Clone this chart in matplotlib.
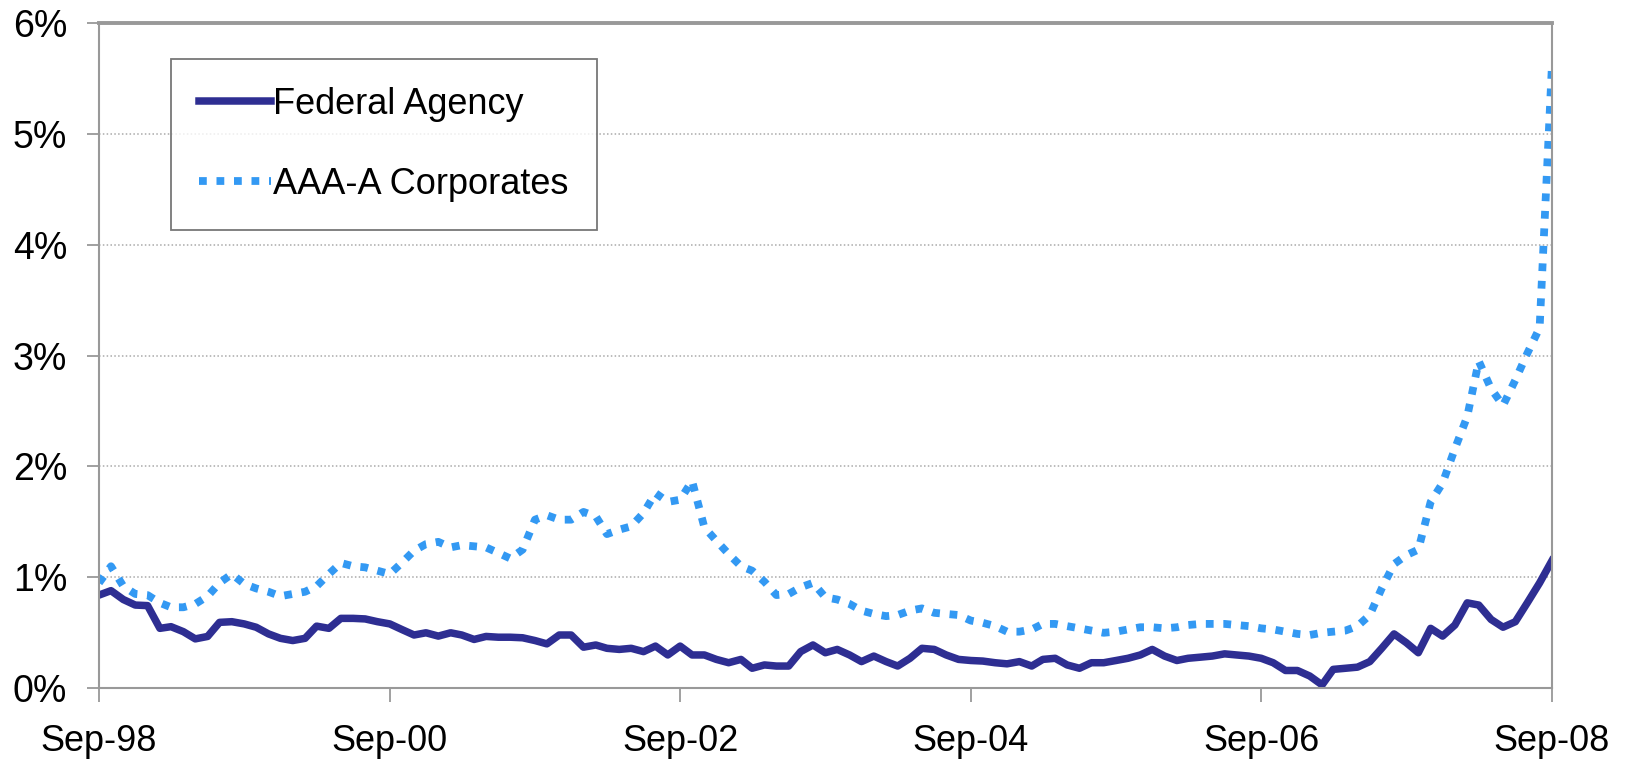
import matplotlib
matplotlib.use('Agg')
import matplotlib.pyplot as plt
import matplotlib.dates as mdates
from matplotlib.ticker import PercentFormatter
import pandas as pd

plt.rcParams['font.family'] = ['Liberation Sans', 'DejaVu Sans']

# monthly observations, Sep-98 .. Sep-08 (spread in %)
dates = pd.date_range('1998-09-01', '2008-09-01', freq='MS')

federal_agency = [
    0.84, 0.88, 0.80, 0.75, 0.745, 0.54, 0.555, 0.51, 0.445, 0.467,
    0.594, 0.60, 0.58, 0.55, 0.49, 0.45, 0.43, 0.45, 0.56, 0.54,
    0.63, 0.63, 0.625, 0.60, 0.58, 0.53, 0.48, 0.50, 0.47, 0.50,
    0.48, 0.44, 0.467, 0.46, 0.46, 0.455, 0.43, 0.40, 0.48, 0.48,
    0.37, 0.39, 0.36, 0.35, 0.36, 0.33, 0.38, 0.30, 0.38, 0.30,
    0.30, 0.26, 0.23, 0.26, 0.18, 0.21, 0.20, 0.20, 0.33, 0.39,
    0.32, 0.35, 0.30, 0.24, 0.29, 0.24, 0.20, 0.27, 0.36, 0.35,
    0.30, 0.26, 0.25, 0.245, 0.23, 0.22, 0.24, 0.20, 0.26, 0.27,
    0.21, 0.18, 0.23, 0.23, 0.25, 0.27, 0.30, 0.35, 0.29, 0.25,
    0.27, 0.28, 0.29, 0.31, 0.30, 0.29, 0.27, 0.23, 0.16, 0.16,
    0.11, 0.03, 0.17, 0.18, 0.19, 0.24, 0.36, 0.49, 0.41, 0.32,
    0.54, 0.47, 0.57, 0.77, 0.75, 0.62, 0.55, 0.60, 0.77, 0.95,
    1.15,
]

aaa_corporates = [
    0.95, 1.10, 0.92, 0.85, 0.84, 0.77, 0.73, 0.73, 0.76, 0.83,
    0.95, 1.03, 0.94, 0.90, 0.87, 0.83, 0.85, 0.87, 0.92, 1.03,
    1.13, 1.10, 1.09, 1.06, 1.03, 1.13, 1.24, 1.30, 1.32, 1.27,
    1.29, 1.28, 1.27, 1.22, 1.17, 1.25, 1.52, 1.56, 1.52, 1.52,
    1.59, 1.55, 1.39, 1.43, 1.46, 1.58, 1.76, 1.68, 1.70, 1.87,
    1.45, 1.33, 1.21, 1.10, 1.06, 0.96, 0.84, 0.85, 0.91, 0.95,
    0.82, 0.80, 0.76, 0.70, 0.67, 0.65, 0.66, 0.70, 0.72, 0.68,
    0.67, 0.66, 0.61, 0.59, 0.56, 0.51, 0.51, 0.53, 0.58, 0.58,
    0.56, 0.54, 0.52, 0.50, 0.51, 0.53, 0.55, 0.55, 0.54, 0.55,
    0.57, 0.58, 0.58, 0.58, 0.57, 0.56, 0.54, 0.53, 0.51, 0.49,
    0.48, 0.50, 0.51, 0.52, 0.56, 0.66, 0.90, 1.12, 1.20, 1.25,
    1.68, 1.85, 2.16, 2.45, 2.95, 2.70, 2.55, 2.78, 3.02, 3.25,
    5.62,
]

series_names = ['Federal Agency', 'AAA-A Corporates']

fig = plt.figure(figsize=(16.29, 7.63), dpi=100)
ax = fig.add_axes([0.0608, 0.098, 0.8919, 0.872])

ax.plot(dates, federal_agency, color='#2E2E92', lw=5.4,
        solid_joinstyle='round', label=series_names[0])
ax.plot(dates, aaa_corporates, color='#3399F3', lw=5.6,
        linestyle=(0, (1.0, 1.25)), dash_capstyle='butt', label=series_names[1])

ax.set_ylim(0, 6)
ax.set_xlim(dates[0], dates[-1])
ax.set_yticks(range(0, 7))
ax.yaxis.set_major_formatter(PercentFormatter(decimals=0))
ax.xaxis.set_major_locator(mdates.YearLocator(base=2, month=9, day=1))
ax.xaxis.set_major_formatter(mdates.DateFormatter('%b-%y'))

ax.grid(axis='y', linestyle=(0, (1, 1.5)), color='#AAAAAA', lw=1.1)
ax.set_axisbelow(True)

ax.tick_params(axis='x', length=10, width=1.3, color='#999999', pad=16,
               labelsize=26)
ax.tick_params(axis='y', length=9, width=1.3, color='#999999', pad=14,
               labelsize=27)

for side in ['left', 'bottom', 'right']:
    ax.spines[side].set_color('#999999')
    ax.spines[side].set_linewidth(1.5)
ax.spines['top'].set_color('#999999')
ax.spines['top'].set_linewidth(2.8)

leg = ax.legend(loc='upper left', bbox_to_anchor=(0.0496, 0.946),
                borderaxespad=0, fontsize=26, frameon=True, fancybox=False,
                edgecolor='#555555', borderpad=0.78, labelspacing=1.25,
                handlelength=2.0, handletextpad=0.05)
leg.get_frame().set_linewidth(1.3)

fig.savefig('out.png', dpi=100)
